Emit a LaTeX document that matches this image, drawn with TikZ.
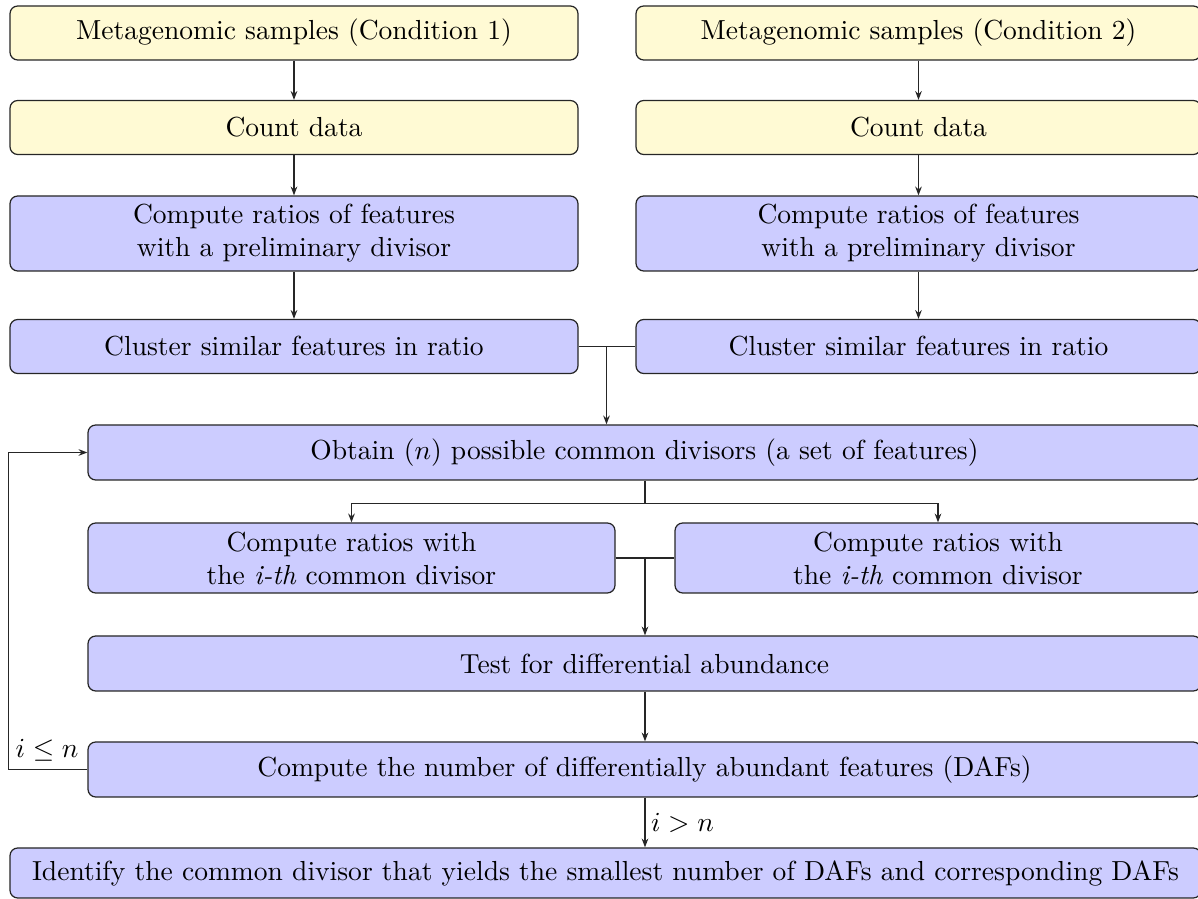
\documentclass[tikz,border=0pt]{standalone}
\usetikzlibrary{arrows.meta,calc}
\definecolor{ylw}{RGB}{255,250,212}
\definecolor{blu}{RGB}{204,204,255}
\def\uu{0.363pt}
\tikzset{
 box/.style={draw=black!85, rounded corners=2.8pt, align=center, inner sep=0pt, line width=0.45pt},
 ybox/.style={box, fill=ylw},
 bbox/.style={box, fill=blu},
 arr/.style={-{Stealth[length=3.2pt,width=2.4pt]}, draw=black!85, line width=0.45pt},
 ln/.style={draw=black!85, line width=0.45pt}
}
\begin{document}
\begin{tikzpicture}[x=\uu,y=-\uu]
\useasboundingbox (0,0) rectangle (1198,899);
% left column
\node[ybox, minimum width=568*\uu, minimum height=54*\uu] (m1) at (294,33) {Metagenomic samples (Condition 1)};
\node[ybox, minimum width=568*\uu, minimum height=54*\uu] (c1) at (294,127.5) {Count data};
\node[bbox, minimum width=568*\uu, minimum height=75*\uu] (r1) at (294,233.5) {Compute ratios of features\\with a preliminary divisor};
\node[bbox, minimum width=568*\uu, minimum height=54*\uu] (k1) at (294,346.5) {Cluster similar features in ratio};
% right column
\node[ybox, minimum width=565*\uu, minimum height=54*\uu] (m2) at (918.5,33) {Metagenomic samples (Condition 2)};
\node[ybox, minimum width=565*\uu, minimum height=54*\uu] (c2) at (918.5,127.5) {Count data};
\node[bbox, minimum width=565*\uu, minimum height=75*\uu] (r2) at (918.5,233.5) {Compute ratios of features\\with a preliminary divisor};
\node[bbox, minimum width=565*\uu, minimum height=54*\uu] (k2) at (918.5,346.5) {Cluster similar features in ratio};
% lower part
\node[bbox, minimum width=1113*\uu, minimum height=55*\uu] (ob) at (644.5,452.5) {Obtain ($n$) possible common divisors (a set of features)};
\node[bbox, minimum width=527*\uu, minimum height=70*\uu] (crl) at (351.5,558) {Compute ratios with\\the \textit{i-th} common divisor};
\node[bbox, minimum width=526*\uu, minimum height=70*\uu] (crr) at (938,558) {Compute ratios with\\the \textit{i-th} common divisor};
\node[bbox, minimum width=1113*\uu, minimum height=55*\uu] (test) at (644.5,663.5) {Test for differential abundance};
\node[bbox, minimum width=1113*\uu, minimum height=55*\uu] (num) at (644.5,769.5) {Compute the number of differentially abundant features (DAFs)};
\node[bbox, minimum width=1191*\uu, minimum height=50*\uu] (id) at (605.5,873) {Identify the common divisor that yields the smallest number of DAFs and corresponding DAFs};
% junctions
\coordinate (j1) at (606.5,346.5);
\coordinate (j2) at (645,503.5);
\coordinate (j3) at (645,558);
\coordinate (lp) at (8.5,769.5);
% connectors
\draw[arr] (m1) -- (c1);
\draw[arr] (c1) -- (r1);
\draw[arr] (r1) -- (k1);
\draw[arr] (m2) -- (c2);
\draw[arr] (c2) -- (r2);
\draw[arr] (r2) -- (k2);
\draw[ln] (k1.east) -- (k2.west);
\draw[arr] (j1) -- (j1 |- ob.north);
\draw[ln] (ob.south -| j2) -- (j2);
\draw[arr] (j2) -| (crl.north);
\draw[arr] (j2) -| (crr.north);
\draw[ln] (crl.east) -- (crr.west);
\draw[arr] (j3) -- (j3 |- test.north);
\draw[arr] (test.south -| j2) -- (num.north -| j2);
\draw[arr] (num.south -| j2) -- node[right, inner sep=2pt] {$i>n$} (id.north -| j2);
\draw[arr] (num.west) -- (lp) |- (ob.west);
\node (lbl) at (47,750) {$i\le n$};
\end{tikzpicture}
\end{document}
